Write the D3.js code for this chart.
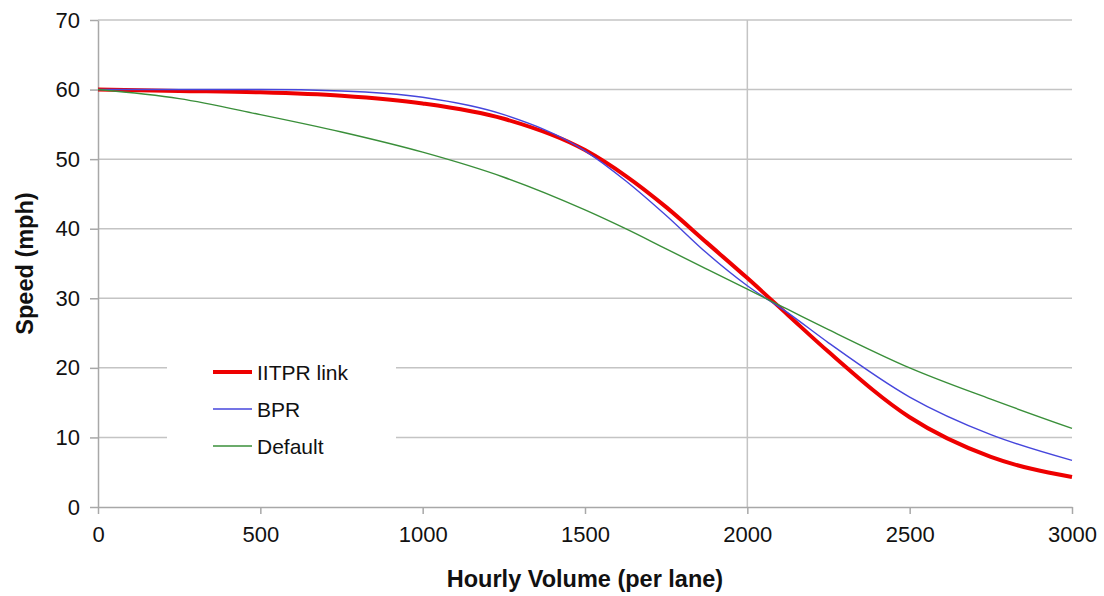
<!DOCTYPE html>
<html>
<head>
<meta charset="utf-8">
<script src="https://cdn.jsdelivr.net/npm/d3@7"></script>
<style>
  html, body { margin: 0; padding: 0; background: #fff; }
  svg { display: block; font-family: Arial, "Liberation Sans", sans-serif; }
</style>
</head>
<body>
<svg id="chart" width="1104" height="596"></svg>
<script>
// Hourly volume per lane (x) sampled along each speed-flow curve
const volume = [0, 250, 500, 750, 1000, 1250, 1500, 1625, 1750, 1875, 2000, 2125, 2250, 2500, 2750, 3000];

// Speed (mph) for each curve at the sampled volumes
const iitprLink = [60, 59.8, 59.6, 59.1, 58.0, 55.8, 51.3, 47.6, 43.1, 38.0, 32.9, 27.6, 22.3, 12.9, 7.2, 4.3];
const bpr       = [60, 60.0, 60.0, 59.8, 58.9, 56.4, 51.2, 46.9, 41.9, 36.5, 31.8, 27.9, 23.6, 15.8, 10.4, 6.7];
const defaultC  = [60, 58.7, 56.4, 53.9, 51.0, 47.4, 42.7, 40.0, 37.1, 34.2, 31.3, 28.4, 25.5, 20.0, 15.5, 11.3];

const seriesNames = ["IITPR link", "BPR", "Default"];

const xTicks = [0, 500, 1000, 1500, 2000, 2500, 3000];
const yTicks = [0, 10, 20, 30, 40, 50, 60, 70];
const xGridTicks = [2000];

const svg = d3.select("#chart");
const plotLeft = 98, plotRight = 1072, plotTop = 20, plotBottom = 507;

const x = d3.scaleLinear().domain([0, 3000]).range([plotLeft, plotRight]);
const y = d3.scaleLinear().domain([0, 70]).range([plotBottom, plotTop]);

// horizontal gridlines
svg.append("g")
  .selectAll("line")
  .data(yTicks.filter(d => d > 0))
  .join("line")
  .attr("x1", plotLeft).attr("x2", plotRight)
  .attr("y1", d => y(d)).attr("y2", d => y(d))
  .attr("stroke", "#c4c4c4").attr("stroke-width", 1.5);

// vertical gridline
svg.append("g")
  .selectAll("line")
  .data(xGridTicks)
  .join("line")
  .attr("x1", d => x(d)).attr("x2", d => x(d))
  .attr("y1", plotTop).attr("y2", plotBottom)
  .attr("stroke", "#c4c4c4").attr("stroke-width", 1.5);

// axes
const xAxis = svg.append("g")
  .attr("transform", `translate(0,${plotBottom})`)
  .call(d3.axisBottom(x).tickValues(xTicks).tickFormat(d3.format("d"))
    .tickSize(7).tickPadding(12).tickSizeOuter(0));
const yAxis = svg.append("g")
  .attr("transform", `translate(${plotLeft},0)`)
  .call(d3.axisLeft(y).tickValues(yTicks).tickFormat(d3.format("d"))
    .tickSize(8).tickPadding(10).tickSizeOuter(0));

[xAxis, yAxis].forEach(g => {
  g.select(".domain").attr("stroke", "#a8a8a8").attr("stroke-width", 1.5);
  g.selectAll(".tick line").attr("stroke", "#a8a8a8").attr("stroke-width", 1.5);
  g.selectAll(".tick text")
    .attr("fill", "#111")
    .attr("font-size", 22)
    .attr("font-family", "Arial, 'Liberation Sans', sans-serif");
});

// axis titles
svg.append("text")
  .attr("x", (plotLeft + plotRight) / 2).attr("y", 587)
  .attr("text-anchor", "middle")
  .attr("font-size", 23.5).attr("font-weight", "bold").attr("fill", "#111")
  .text("Hourly Volume (per lane)");

svg.append("text")
  .attr("transform", `translate(33,${(plotTop + plotBottom) / 2}) rotate(-90)`)
  .attr("text-anchor", "middle")
  .attr("font-size", 23.5).attr("font-weight", "bold").attr("fill", "#111")
  .text("Speed (mph)");

// curves
const series = [
  { name: seriesNames[0], values: iitprLink, color: "#ee0000", width: 4 },
  { name: seriesNames[1], values: bpr,       color: "#4646dc", width: 1.4 },
  { name: seriesNames[2], values: defaultC,  color: "#3a8f3a", width: 1.4 }
];

const line = d3.line()
  .x((d, i) => x(volume[i]))
  .y(d => y(d))
  .curve(d3.curveMonotoneX);

svg.append("g")
  .selectAll("path")
  .data(series)
  .join("path")
  .attr("d", d => line(d.values))
  .attr("fill", "none")
  .attr("stroke", d => d.color)
  .attr("stroke-width", d => d.width)
  .attr("stroke-linejoin", "round");

// legend
const legend = svg.append("g").attr("transform", "translate(167,350)");
legend.append("rect")
  .attr("width", 229).attr("height", 115)
  .attr("fill", "#fff");

const item = legend.selectAll("g")
  .data(series)
  .join("g")
  .attr("transform", (d, i) => `translate(0,${22 + i * 37})`);

item.append("line")
  .attr("x1", 46).attr("x2", 85)
  .attr("stroke", d => d.color)
  .attr("stroke-width", d => d.width);

item.append("text")
  .attr("x", 90).attr("dy", "0.36em")
  .attr("font-size", 21).attr("fill", "#111")
  .text(d => d.name);
</script>
</body>
</html>
